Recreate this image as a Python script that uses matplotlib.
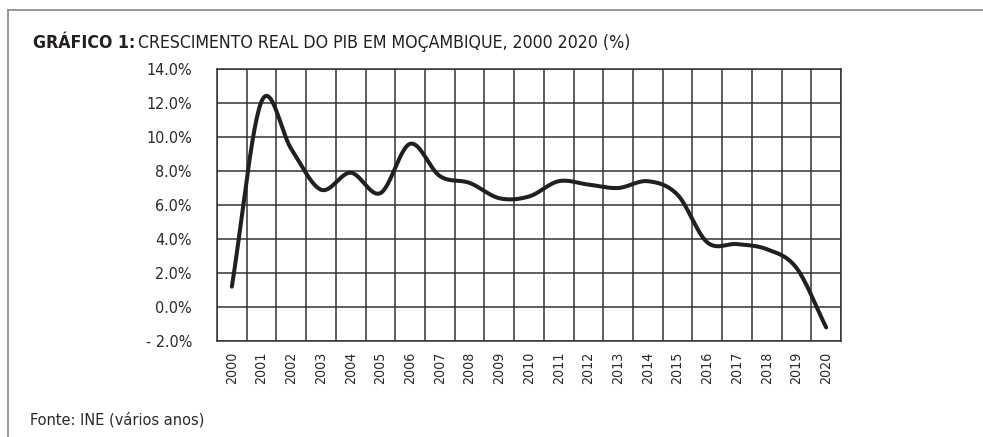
import os
import numpy as np
import matplotlib
matplotlib.use("Agg")
import matplotlib.pyplot as plt
from matplotlib import font_manager
from matplotlib.font_manager import FontProperties
from matplotlib.lines import Line2D

years = [str(y) for y in range(2000, 2021)]
growth = [1.2, 12.1, 9.3, 6.9, 7.9, 6.7, 9.6, 7.7, 7.3, 6.4, 6.5, 7.4,
          7.2, 7.0, 7.4, 6.6, 3.8, 3.7, 3.4, 2.3, -1.2]
yticks = [-2, 0, 2, 4, 6, 8, 10, 12, 14]
ytick_labels = ["- 2.0%", "0.0%", "2.0%", "4.0%", "6.0%", "8.0%", "10.0%", "12.0%", "14.0%"]

# look for a condensed font file
files = {os.path.basename(f.fname): f.fname for f in font_manager.fontManager.ttflist}
reg_file = bold_file = None
for r, b in [("LiberationSansNarrow-Regular.ttf", "LiberationSansNarrow-Bold.ttf"),
             ("DejaVuSansCondensed.ttf", "DejaVuSansCondensed-Bold.ttf")]:
    if r in files:
        reg_file = files[r]
        bold_file = files.get(b)
        break
condensed = reg_file is not None

def fp(size, bold=False):
    if condensed:
        if bold and bold_file:
            return FontProperties(fname=bold_file, size=size)
        return FontProperties(fname=reg_file, size=size, weight="bold" if bold else "normal")
    return FontProperties(family="Roboto", size=size, weight="bold" if bold else "normal")

def catmull_rom(x, y, n=30):
    x = np.asarray(x, float); y = np.asarray(y, float)
    px = np.concatenate([[2*x[0]-x[1]], x, [2*x[-1]-x[-2]]])
    py = np.concatenate([[2*y[0]-y[1]], y, [2*y[-1]-y[-2]]])
    xs, ys = [], []
    t = np.linspace(0, 1, n, endpoint=False)
    for i in range(1, len(px) - 2):
        for arr, out in ((px, xs), (py, ys)):
            p0, p1, p2, p3 = arr[i-1], arr[i], arr[i+1], arr[i+2]
            out.extend(0.5*((2*p1) + (-p0+p2)*t + (2*p0-5*p1+4*p2-p3)*t**2 + (-p0+3*p1-3*p2+p3)*t**3))
    xs.append(x[-1]); ys.append(y[-1])
    return np.array(xs), np.array(ys)

fig = plt.figure(figsize=(9.83, 4.37), dpi=100)
ax = fig.add_axes([217/983, 1-341/437, (841-217)/983, (341-69)/437])

xi = np.arange(len(years))
sx, sy = catmull_rom(xi, growth)
ax.plot(sx, sy, color="#231f20", lw=2.9, solid_capstyle="round", zorder=3)

s_tick = 11.5 if condensed else 11.5
s_x = 10.2 if condensed else 9.5
ax.set_xlim(-0.5, len(years) - 0.5)
ax.set_ylim(-2, 14)
ax.set_yticks(yticks)
ax.set_yticklabels(ytick_labels, fontproperties=fp(s_tick), color="#2a2a2a")
ax.set_xticks(xi)
ax.set_xticklabels(years, rotation=90, fontproperties=fp(s_x), color="#2a2a2a")
ax.tick_params(length=0)
ax.tick_params(axis='y', pad=18)
ax.tick_params(axis='x', pad=8)
for b in np.arange(-0.5, len(years), 1.0):
    ax.axvline(b, color="#333333", lw=1.1, zorder=1)
for v in yticks:
    ax.axhline(v, color="#333333", lw=1.1, zorder=1)
for s in ax.spines.values():
    s.set_color("#333333"); s.set_linewidth(1.1)

s_title = 12.7 if condensed else 12.8
t1 = fig.text(33/983, 1-43/437, "GRÁFICO 1:", fontproperties=fp(s_title, True),
              color="#231f20", va="center", ha="left")
fig.canvas.draw()
bb = t1.get_window_extent()
fig.text((bb.x1 + 3)/983, 1-43/437, "CRESCIMENTO REAL DO PIB EM MOÇAMBIQUE, 2000 2020 (%)",
         fontproperties=fp(s_title), color="#231f20", va="center", ha="left")
fig.text(30/983, 1-420/437, "Fonte: INE (vários anos)", fontproperties=fp(11.7 if condensed else 11.5),
         color="#2a2a2a", va="center", ha="left")

fig.add_artist(Line2D([8/983, 1], [1-10/437, 1-10/437], color="#888888", lw=1.2))
fig.add_artist(Line2D([8/983, 8/983], [0, 1-10/437], color="#888888", lw=1.2))

fig.savefig("out.png", dpi=100)
